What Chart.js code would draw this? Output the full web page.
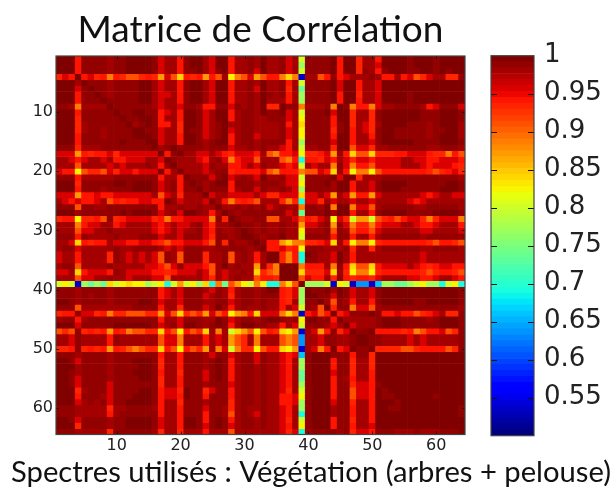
<!DOCTYPE html>
<html>
<head>
<meta charset="utf-8">
<script src="https://cdn.jsdelivr.net/npm/chart.js@4"></script>
<style>
html,body{margin:0;padding:0;background:#fff;overflow:hidden;width:613px;height:488px}
canvas{position:absolute;left:0;top:0}
</style>
</head>
<body>
<canvas id="main" width="622" height="488"></canvas>
<canvas id="bar" width="613" height="488"></canvas>
<script>
const titleText = 'Matrice de Corrélation';
const xLabelText = 'Spectres utilisés : Végétation (arbres + pelouse)';
const axisTicks = [10,20,30,40,50,60];
const colorTicks = [1,0.95,0.9,0.85,0.8,0.75,0.7,0.65,0.6,0.55];
const colorMin = 0.5, colorMax = 1, colorLevels = 64;
// correlation level read for each letter
const levelValues = {a:1,b:.99,c:.977,d:.96,e:.945,f:.93,g:.908,h:.888,i:.868,j:.84,k:.825,l:.799,m:.768,n:.737,o:.69,p:.6625,q:.6375,r:.575,s:.533};
// one string per row, one letter per column
const matrixRows = [
'aaaebbbbcb baaaabdcce baacdaaecc bcaccbdclb bbbaeaafcc eaaaabaaab aaaa',
'aaaebbbbcb baaaabdcce baacdaaecc bcaccbdcmb bbbaeaafcc daaaabaaab aaaa',
'aaaebbbbcb baaaabdcce bbacdbaecc bdaccbdclb bbbaeaafbc ebaaabbaab abaa',
'fdeaedfehe fggfefidgj efeiegckhg digeehjhsc cgebedcccb ceecedgfdc cffb',
'aaacabbbcb bbbaacdcce baacdaaecc bcaccbeclb bbbadaaecc daaaaaaaaa aaaa',
'aaadbabbcb bbbaacdcce baacdaaecc bdaccbfcnb bbbadaaecc daaaaaaaaa aaaa',
'aaaebbabcb bbbaacddce baacdaaecc bcabcbecmb bbbaeaafcc daaaabaaaa aaaa',
'aaaebbbabb bbbaacdcce baacdaaecc bcacccecmb bbbaeaaecc daaaabaaaa aaaa',
'bbchccccab bbbbbcdccd bbceebbdbc bcaffabbhc ccbhabheeh dccbbbbced bbbd',
'aaaebbbbba bbaabbedce aabdcaaecb bcabbadclb bbadaafccf baaaaaabbb aaab',
'aaafbbbbbb abbaabecce aabdcaaecb bccbbbdckb bbbeaafccf baaaaaabbb aaab',
'aaafcbbbbb bacbabeecf aabdcbaccb bccccbecjb bbbebafcdf caaaabbbcb aaac',
'aaafcbbcbb bbaabbdccf abbdcbadcb bccccbdckb bbbfbaecdf baabbbbbcb baac',
'aaaebbbcbb bbaaabdcce aabdcbaecb bdcccbdckb bbbeaaecce baabbbbbcb aaac',
'aaaebbbbbb abbbaadcce aabcbaaecb bcbbbbecmb bbbdaaeccd baaaaabbbb aaab',
'bbbfcccbbb bbbbbacbab bbbcbbbdcc bcbccdeclc cbbfaagddf ccbbbbbbcc bbbc',
'dddiefeedf ddddddaeba ccddcdefdd decgheedkf fedicejggj fffeedddef fheg',
'ccdedccdce edddccdabc ccdecbdhed dgcccgheoe efdecdfdde ddddccddee ddde',
'cccgccccdc dcccbcebac cccdbcceed cdbccdedlc dcchbdheeg ddddcccded ddef',
'deekgffgdf ddedddaeca cccdcbbfee eedgheeehg gdejcekhhk geeeeeeefg fedf',
'bbbecccccb bbbbbbecce abbbdbadcb cdaccbddlb bbbadaafcc cbbbbbbbbb bbbc',
'aaafbbbbba abaaabdcbe babcbaaebb bcbbbcddkb bbacaaeccd baaaabbbbb baab',
'aaaebbbcbb bbaaabdcbe bbacbbbecb bdbccbcdmb bbbcaaeccd baaabbbbbb aaab',
'dddieedeed dddddcgdcf cccadccddd dcdffdddjd dcdicdieei dccccccded ccdd',
'cdedeedcge feeddeeabd cccdacehfe fgcccfhfod dfcdccdccd cccccdedcc cccc',
'bbbgbbccbb bbbbbbeccb ccbccaccbc bcbdcbcchb bcahaahddg cbbbbbccbb bbbc',
'aaacbbbbbb abaaabdcbd aabcecabcb bbbbbbdcnb bbacaaecce baaaabbbba aaab',
'feekffegbf eddddfehee ddddhbfabc cbbggccdge fdckdfliil gfegeddfhf dddh',
'cccheddcce dccccdedcd dcbdfccbab bcbccbccid dcbibdhffh edddccdeed ccce',
'cccgddccbc cccccdedcd ccbdebccba bcbccbcckc ccbgbcgeeg dccccccddc cccd',
'bbbebccccb cccbbbdccd bbbdfbbcba abcbbacclb bbbebbecce cbbbbbbcbb bbbb',
'ccdjefeecd deeddefgee dddegbfbcc babeeijhhf fedjcekhhk feeeeeeefg eefg',
'cbbdcccccb ccbbbbcdcd bbbccbbbbb cbaeedfekb bbcccbfccf cbbbbbbccb bbbc',
'dcceccccfb cdcdcdgbcg bbbfccbgcb cecaafheoa bccdaceccc cccccccdcc cccc',
'dcceccccfb cdcdcdgbcg bbbfccbgcb cecaafheob bccdaceccc cccccccdcc cccc',
'cbbgccccbc ccccddegdb dddegcacbc cicfhaaahe eechbejggj eddddcdefe ddee',
'ddcjedddeb cddddeefed ddcdgcdccb cjfghaaajf ffdjcfkhhk feeeeeefgf eefg',
'cccgddccbc cdcccddgcc cccdfcdcbc cgeefaaagd eecfbefeef dccccddeed ccde',
'lklsmnmnjl kjkkmlkoli lkmjohngik lhkoohjgam mmlsklsqqs pmmnnmlkmm olko',
'bbbcbbbbcb bbbbbbedcd bbbcdbcecb bcbaaefdma bbacabdccd baaaaaaaaa aaab',
'bbbcbcbbcb bbbbbbedcd bbbdcbcfcb bcbbbefdma abbdabdccd baaaaaaaaa aaab',
'aabcbbbbcb bbbaabdccd bbbccbbdcb bcbccefcmb bacgbcecce baaaaabbaa aaab',
'bbbgcccccc ccbbbbeccf bbbdcacecb ccbccecdlb cgafbbhddg cbbbbbbbbb bbbc',
'feebddfehf fgggffidgj fgfidgekih ejdddhjhse dgeaedbbba beedeegfed cffb',
'cbbecbbbbb bbbbbbeccd bbbccabdcb bcbaabcbka abbeaccccc baaabbbbcb aaab',
'aaadbbbbba aaaaabdcbd aabcbabeca abbccecdlb bbcdcadccc baaabbbbbb aaab',
'gfgbfefeie fhggffjegk egfjchclji gkgefjkisc diebfdabba eeeefehgee dgfb',
'ccdbcccceb ccccccgddh cccecdcigf chcccghgqc cdbbccbaab bccccdcdcc cccb',
'ccdbcccceb ccccccgddh cccecdcigf chcccghgqc cdbbccbaab bccccdcdcc cccb',
'ffebfefeie fghgffjegk egfichdlhf fkgeejkisc dheaedabba ffffggfeee egfb',
'bbbcbbbbcb bbbbbbecce bbbcdbbdcb bdbccdedpb aaabbbebbf aaaaaaaaaa aaaa',
'aabdbbbbcb bbaaabfcce bbbcbabecb bdbccdecmb aaaebbfccf aaaaaaaaaa aaaa',
'aaacbbbbcb bbbaabfcce bbbcbabecb bcbccdecmb aaaebbfccf aaaaaaaaaa aaaa',
'aabcbbbbcb bbaaabeccf bbbdbabecb bcbccdecnb aaadbbfcce aaaaaaaaaa aaaa',
'aabdbbbbcb bbbaabfcce bbbdbabecb bcbccdecnb aaaebcecce aaaaaaaaaa aaaa',
'aabdbbbbdb bbbbbbfcce bbbcbbbdcb bcbccdecmb aaaebbfdde baaaaaaaaa aaaa',
'aaafcbbbdb bbbaabeddf abbfdbbecb bcbccdfclb aaaebbgdde abaaaaaaaa aaaa',
'aaaebbbcdb bbaaabedde abbebbbecb bcbcceedkb aaaebbgdde abbaaaaaab aaaa',
'aaadcbcbdb baaaabeccf bbbcbbbfcb bcbcceedmb aaadbbfcce aaabaaaaaa aaaa',
'bbbcccccfc cbbbbcecce bbbdbbcfcb ccbccdecmb aaacbbecce aabbaaaaaa aaab',
'bbbcccccec bbbbbbecce bbbebbcgcb cdbccdecob aaacbbecce aaaaaaaaaa aaab',
'aabdbbbbcb baaaabdcce aabebabecb bcbccdfclb aaaebbfcce aaaaaaaaaa aaaa',
'aaafbbbbcb baaaabdcce aabdbabdcb bcbccdeckb aaaebbeccd aaaaaaaaaa aaaa',
'bbbcccccfb bbbbbcfccf cccecccgcc cccccdfdoc bbbbcbfdde bbbcccbccc bbba'
];
// jet colour map anchors: [position, value]
const jetR = [[0,0],[.35,0],[.66,1],[.89,1],[1,.5]];
const jetG = [[0,0],[.125,0],[.375,1],[.64,1],[.91,0],[1,0]];
const jetB = [[0,.5],[.11,1],[.34,1],[.65,0],[1,0]];

function channel(stops,t){
  for(let i=1;i<stops.length;i++){
    if(t<=stops[i][0]){
      const a=stops[i-1],b=stops[i];
      return a[1]+(b[1]-a[1])*(t-a[0])/(b[0]-a[0]);
    }
  }
  return stops[stops.length-1][1];
}
function levelColor(k){
  const t=k/(colorLevels-1);
  return `rgb(${Math.round(255*channel(jetR,t))},${Math.round(255*channel(jetG,t))},${Math.round(255*channel(jetB,t))})`;
}
function valueColor(v){
  const k=Math.max(0,Math.min(colorLevels-1,Math.floor((v-colorMin)/(colorMax-colorMin)*colorLevels)));
  return levelColor(k);
}
const frameColor='#444';
function framePlugin(sides){
  return {id:'frameTicks',afterDatasetsDraw(chart){
    const c=chart.ctx,a=chart.chartArea;
    c.save();
    c.strokeStyle='#111';c.lineWidth=1;
    const line=(x1,y1,x2,y2)=>{c.beginPath();c.moveTo(x1,y1);c.lineTo(x2,y2);c.stroke();};
    const ys=chart.scales.y;
    ys.ticks.forEach(t=>{
      if(t.value===colorMax)return;
      const p=Math.round(ys.getPixelForValue(t.value))+.5;
      line(a.left,p,a.left+sides,p);line(a.right,p,a.right-sides,p);
    });
    const xs=chart.scales.x;
    if(xs.options.display!==false){
      xs.ticks.forEach(t=>{
        const p=Math.round(xs.getPixelForValue(t.value))+.5;
        line(p,a.top,p,a.top+sides);line(p,a.bottom,p,a.bottom-sides);
      });
    }
    c.strokeStyle=frameColor;c.lineWidth=1.2;
    c.strokeRect(a.left,a.top,a.right-a.left,a.bottom-a.top);
    c.restore();
  }};
}
const tickFont={family:'"DejaVu Sans"',size:16};
const noGrid={display:false,drawTicks:false,tickLength:0};
const rows=matrixRows.map(s=>s.replace(/ /g,''));
const mainDatasets=rows.map((row,r)=>{
  const data=[],colors=[];
  for(let c=0;c<row.length;c++){
    const v=levelValues[row[c]];
    data.push({x:c+1,y:[r+.5,r+1.5]});
    colors.push(valueColor(v));
  }
  return {data,backgroundColor:colors,borderWidth:0,barPercentage:1,categoryPercentage:1};
});
new Chart(document.getElementById('main'),{
  type:'bar',
  data:{datasets:mainDatasets},
  options:{
    responsive:false,animation:false,devicePixelRatio:1,events:[],
    plugins:{
      legend:{display:false},tooltip:{enabled:false},
      title:{display:true,text:titleText,fullSize:false,color:'#111',font:{family:'Lato',size:37,weight:'normal',lineHeight:1.2},padding:{top:8,bottom:3.6}},
      subtitle:{display:true,text:xLabelText,position:'bottom',color:'#111',font:{family:'Lato',size:29.2,weight:'normal',lineHeight:1},padding:{top:4.3,bottom:1}}
    },
    scales:{
      x:{type:'linear',stacked:true,min:.5,max:64.5,offset:false,grid:noGrid,border:{display:false},
        afterBuildTicks(s){s.ticks=axisTicks.map(v=>({value:v}));},
        afterFit(s){s.height=19;},
        ticks:{font:tickFont,color:'#222',padding:2,maxRotation:0,autoSkip:false,callback:v=>String(v)}},
      y:{type:'linear',reverse:true,min:.5,max:64.5,grid:noGrid,border:{display:false},
        afterBuildTicks(s){s.ticks=axisTicks.map(v=>({value:v}));},
        afterFit(s){s.width=56;},
        ticks:{font:tickFont,color:'#222',padding:3,autoSkip:false,callback:v=>String(v)}},
      rightSpace:{type:'linear',position:'right',grid:noGrid,border:{display:false},ticks:{display:false},
        afterFit(s){s.width=157;}}
    }
  },
  plugins:[framePlugin(3)]
});
const barDatasets=[];
for(let k=0;k<colorLevels;k++){
  const lo=colorMin+(colorMax-colorMin)*k/colorLevels;
  const hi=colorMin+(colorMax-colorMin)*(k+1)/colorLevels;
  barDatasets.push({data:[[lo,hi]],backgroundColor:levelColor(k),borderWidth:0,barPercentage:1,categoryPercentage:1});
}
new Chart(document.getElementById('bar'),{
  type:'bar',
  data:{labels:['couleur'],datasets:barDatasets},
  options:{
    responsive:false,animation:false,devicePixelRatio:1,events:[],
    layout:{padding:{left:491,right:0,top:55.7,bottom:52.3}},
    plugins:{legend:{display:false},tooltip:{enabled:false}},
    scales:{
      x:{display:false,stacked:true},
      y:{type:'linear',position:'right',min:colorMin,max:colorMax,grid:noGrid,border:{display:false},
        afterBuildTicks(s){s.ticks=colorTicks.map(v=>({value:v}));},
        afterFit(s){s.width=79;},
        ticks:{font:{family:'"DejaVu Sans"',size:26},color:'#222',padding:10,autoSkip:false,callback:v=>String(v)}}
    }
  },
  plugins:[framePlugin(6)]
});
</script>
</body>
</html>
